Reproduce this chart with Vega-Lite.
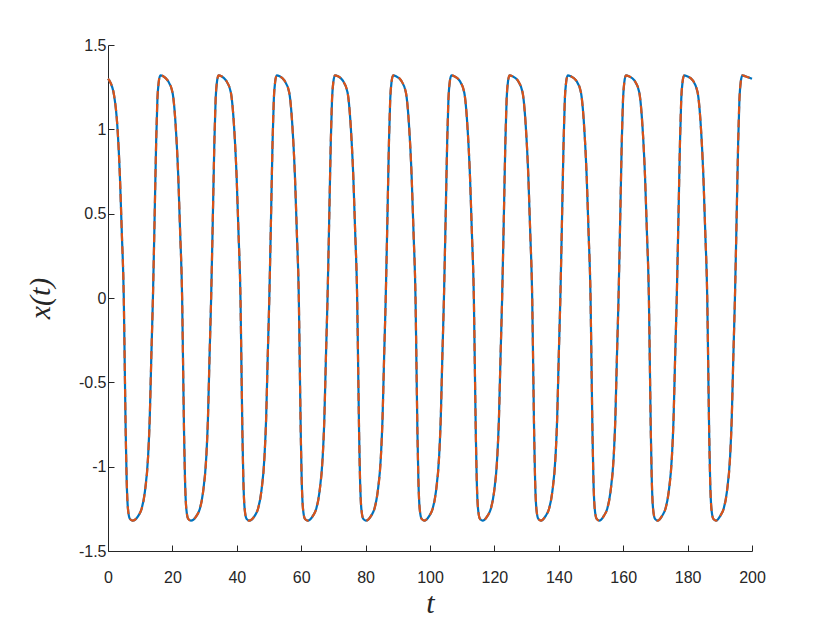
{
  "$schema": "https://vega.github.io/schema/vega-lite/v6.json",
  "width": 644,
  "height": 506,
  "autosize": {"type": "none"},
  "padding": {"left": 108, "top": 45, "right": 78, "bottom": 72},
  "background": "white",
  "config": {"view": {"stroke": null}},
  "data": {"values": [
    {"t":0,"x":1.30},{"t":0.40,"x":1.29},{"t":1.90,"x":1.20},{"t":2.90,"x":1.02},{"t":3.70,"x":0.72},{"t":4.30,"x":0.38},{"t":4.90,"x":0},{"t":5.20,"x":-0.40},{"t":5.50,"x":-0.80},{"t":5.80,"x":-1.08},{"t":6.20,"x":-1.25},{"t":6.80,"x":-1.31},{"t":7.60,"x":-1.32},
    {"t":9.45,"x":-1.29},{"t":10.45,"x":-1.25},{"t":11.45,"x":-1.15},{"t":12.45,"x":-0.94},{"t":12.95,"x":-0.72},{"t":13.45,"x":-0.35},{"t":13.95,"x":0},{"t":14.45,"x":0.45},{"t":14.95,"x":0.92},{"t":15.35,"x":1.18},{"t":15.75,"x":1.28},{"t":16.25,"x":1.32},{"t":17.15,"x":1.315},
    {"t":18.52,"x":1.29},{"t":20.02,"x":1.22},{"t":21.02,"x":1.02},{"t":21.82,"x":0.72},{"t":22.42,"x":0.38},{"t":23.02,"x":0},{"t":23.32,"x":-0.40},{"t":23.62,"x":-0.80},{"t":23.92,"x":-1.08},{"t":24.32,"x":-1.25},{"t":24.92,"x":-1.31},{"t":25.72,"x":-1.32},
    {"t":27.53,"x":-1.29},{"t":28.53,"x":-1.25},{"t":29.53,"x":-1.15},{"t":30.53,"x":-0.94},{"t":31.03,"x":-0.72},{"t":31.53,"x":-0.35},{"t":32.03,"x":0},{"t":32.53,"x":0.45},{"t":33.03,"x":0.92},{"t":33.43,"x":1.18},{"t":33.83,"x":1.28},{"t":34.33,"x":1.32},{"t":35.23,"x":1.315},
    {"t":36.64,"x":1.29},{"t":38.14,"x":1.22},{"t":39.14,"x":1.02},{"t":39.94,"x":0.72},{"t":40.54,"x":0.38},{"t":41.14,"x":0},{"t":41.44,"x":-0.40},{"t":41.74,"x":-0.80},{"t":42.04,"x":-1.08},{"t":42.44,"x":-1.25},{"t":43.04,"x":-1.31},{"t":43.84,"x":-1.32},
    {"t":45.60,"x":-1.29},{"t":46.60,"x":-1.25},{"t":47.60,"x":-1.15},{"t":48.60,"x":-0.94},{"t":49.10,"x":-0.72},{"t":49.60,"x":-0.35},{"t":50.10,"x":0},{"t":50.60,"x":0.45},{"t":51.10,"x":0.92},{"t":51.50,"x":1.18},{"t":51.90,"x":1.28},{"t":52.40,"x":1.32},{"t":53.30,"x":1.315},
    {"t":54.76,"x":1.29},{"t":56.26,"x":1.22},{"t":57.26,"x":1.02},{"t":58.06,"x":0.72},{"t":58.66,"x":0.38},{"t":59.26,"x":0},{"t":59.56,"x":-0.40},{"t":59.86,"x":-0.80},{"t":60.16,"x":-1.08},{"t":60.56,"x":-1.25},{"t":61.16,"x":-1.31},{"t":61.96,"x":-1.32},
    {"t":63.68,"x":-1.29},{"t":64.68,"x":-1.25},{"t":65.68,"x":-1.15},{"t":66.68,"x":-0.94},{"t":67.18,"x":-0.72},{"t":67.68,"x":-0.35},{"t":68.18,"x":0},{"t":68.68,"x":0.45},{"t":69.18,"x":0.92},{"t":69.58,"x":1.18},{"t":69.98,"x":1.28},{"t":70.48,"x":1.32},{"t":71.38,"x":1.315},
    {"t":72.88,"x":1.29},{"t":74.38,"x":1.22},{"t":75.38,"x":1.02},{"t":76.18,"x":0.72},{"t":76.78,"x":0.38},{"t":77.38,"x":0},{"t":77.68,"x":-0.40},{"t":77.98,"x":-0.80},{"t":78.28,"x":-1.08},{"t":78.68,"x":-1.25},{"t":79.28,"x":-1.31},{"t":80.08,"x":-1.32},
    {"t":81.75,"x":-1.29},{"t":82.75,"x":-1.25},{"t":83.75,"x":-1.15},{"t":84.75,"x":-0.94},{"t":85.25,"x":-0.72},{"t":85.75,"x":-0.35},{"t":86.25,"x":0},{"t":86.75,"x":0.45},{"t":87.25,"x":0.92},{"t":87.65,"x":1.18},{"t":88.05,"x":1.28},{"t":88.55,"x":1.32},{"t":89.45,"x":1.315},
    {"t":91.00,"x":1.29},{"t":92.50,"x":1.22},{"t":93.50,"x":1.02},{"t":94.30,"x":0.72},{"t":94.90,"x":0.38},{"t":95.50,"x":0},{"t":95.80,"x":-0.40},{"t":96.10,"x":-0.80},{"t":96.40,"x":-1.08},{"t":96.80,"x":-1.25},{"t":97.40,"x":-1.31},{"t":98.20,"x":-1.32},
    {"t":99.83,"x":-1.29},{"t":100.83,"x":-1.25},{"t":101.83,"x":-1.15},{"t":102.83,"x":-0.94},{"t":103.33,"x":-0.72},{"t":103.83,"x":-0.35},{"t":104.33,"x":0},{"t":104.83,"x":0.45},{"t":105.33,"x":0.92},{"t":105.73,"x":1.18},{"t":106.13,"x":1.28},{"t":106.63,"x":1.32},{"t":107.53,"x":1.315},
    {"t":109.12,"x":1.29},{"t":110.62,"x":1.22},{"t":111.62,"x":1.02},{"t":112.42,"x":0.72},{"t":113.02,"x":0.38},{"t":113.62,"x":0},{"t":113.92,"x":-0.40},{"t":114.22,"x":-0.80},{"t":114.52,"x":-1.08},{"t":114.92,"x":-1.25},{"t":115.52,"x":-1.31},{"t":116.32,"x":-1.32},
    {"t":117.90,"x":-1.29},{"t":118.90,"x":-1.25},{"t":119.90,"x":-1.15},{"t":120.90,"x":-0.94},{"t":121.40,"x":-0.72},{"t":121.90,"x":-0.35},{"t":122.40,"x":0},{"t":122.90,"x":0.45},{"t":123.40,"x":0.92},{"t":123.80,"x":1.18},{"t":124.20,"x":1.28},{"t":124.70,"x":1.32},{"t":125.60,"x":1.315},
    {"t":127.24,"x":1.29},{"t":128.74,"x":1.22},{"t":129.74,"x":1.02},{"t":130.54,"x":0.72},{"t":131.14,"x":0.38},{"t":131.74,"x":0},{"t":132.04,"x":-0.40},{"t":132.34,"x":-0.80},{"t":132.64,"x":-1.08},{"t":133.04,"x":-1.25},{"t":133.64,"x":-1.31},{"t":134.44,"x":-1.32},
    {"t":135.98,"x":-1.29},{"t":136.98,"x":-1.25},{"t":137.98,"x":-1.15},{"t":138.98,"x":-0.94},{"t":139.48,"x":-0.72},{"t":139.98,"x":-0.35},{"t":140.48,"x":0},{"t":140.98,"x":0.45},{"t":141.48,"x":0.92},{"t":141.88,"x":1.18},{"t":142.28,"x":1.28},{"t":142.78,"x":1.32},{"t":143.68,"x":1.315},
    {"t":145.36,"x":1.29},{"t":146.86,"x":1.22},{"t":147.86,"x":1.02},{"t":148.66,"x":0.72},{"t":149.26,"x":0.38},{"t":149.86,"x":0},{"t":150.16,"x":-0.40},{"t":150.46,"x":-0.80},{"t":150.76,"x":-1.08},{"t":151.16,"x":-1.25},{"t":151.76,"x":-1.31},{"t":152.56,"x":-1.32},
    {"t":154.05,"x":-1.29},{"t":155.05,"x":-1.25},{"t":156.05,"x":-1.15},{"t":157.05,"x":-0.94},{"t":157.55,"x":-0.72},{"t":158.05,"x":-0.35},{"t":158.55,"x":0},{"t":159.05,"x":0.45},{"t":159.55,"x":0.92},{"t":159.95,"x":1.18},{"t":160.35,"x":1.28},{"t":160.85,"x":1.32},{"t":161.75,"x":1.315},
    {"t":163.48,"x":1.29},{"t":164.98,"x":1.22},{"t":165.98,"x":1.02},{"t":166.78,"x":0.72},{"t":167.38,"x":0.38},{"t":167.98,"x":0},{"t":168.28,"x":-0.40},{"t":168.58,"x":-0.80},{"t":168.88,"x":-1.08},{"t":169.28,"x":-1.25},{"t":169.88,"x":-1.31},{"t":170.68,"x":-1.32},
    {"t":172.13,"x":-1.29},{"t":173.13,"x":-1.25},{"t":174.13,"x":-1.15},{"t":175.13,"x":-0.94},{"t":175.63,"x":-0.72},{"t":176.13,"x":-0.35},{"t":176.63,"x":0},{"t":177.13,"x":0.45},{"t":177.63,"x":0.92},{"t":178.03,"x":1.18},{"t":178.43,"x":1.28},{"t":178.93,"x":1.32},{"t":179.83,"x":1.315},
    {"t":181.60,"x":1.29},{"t":183.10,"x":1.22},{"t":184.10,"x":1.02},{"t":184.90,"x":0.72},{"t":185.50,"x":0.38},{"t":186.10,"x":0},{"t":186.40,"x":-0.40},{"t":186.70,"x":-0.80},{"t":187.00,"x":-1.08},{"t":187.40,"x":-1.25},{"t":188.00,"x":-1.31},{"t":188.80,"x":-1.32},
    {"t":190.20,"x":-1.29},{"t":191.20,"x":-1.25},{"t":192.20,"x":-1.15},{"t":193.20,"x":-0.94},{"t":193.70,"x":-0.72},{"t":194.20,"x":-0.35},{"t":194.70,"x":0},{"t":195.20,"x":0.45},{"t":195.70,"x":0.92},{"t":196.10,"x":1.18},{"t":196.50,"x":1.28},{"t":197.00,"x":1.32},{"t":197.90,"x":1.315},{"t":200,"x":1.30}
  ]},
  "encoding": {
    "x": {"field": "t", "type": "quantitative",
      "scale": {"domain": [0, 200], "nice": false, "zero": false},
      "axis": {"values": [0,20,40,60,80,100,120,140,160,180,200], "grid": false,
        "labelExpr": "'' + datum.value",
        "title": "t", "titleFont": "Liberation Serif", "titleFontStyle": "italic", "titleFontWeight": "normal", "titleFontSize": 30, "titleColor": "#262626",
        "titleX": 322, "titleY": 52, "titleBaseline": "middle",
        "labelFont": "Liberation Sans", "labelFontSize": 16, "labelColor": "#262626", "labelPadding": 24,
        "domainColor": "#262626", "tickColor": "#262626", "tickSize": -6, "labelFlush": false, "labelOverlap": false}},
    "y": {"field": "x", "type": "quantitative",
      "scale": {"domain": [-1.5, 1.5], "nice": false, "zero": false},
      "axis": {"values": [-1.5,-1,-0.5,0,0.5,1,1.5], "grid": false,
        "labelExpr": "'' + datum.value",
        "title": "x(t)", "titleFont": "Liberation Serif", "titleFontStyle": "italic", "titleFontWeight": "normal", "titleFontSize": 30, "titleColor": "#262626",
        "titleX": -68, "titleY": 253, "titleAngle": -90, "titleBaseline": "middle", "titleAlign": "center",
        "labelFont": "Liberation Sans", "labelFontSize": 16, "labelColor": "#262626", "labelPadding": 8,
        "domainColor": "#262626", "tickColor": "#262626", "tickSize": -6, "labelFlush": false, "labelOverlap": false}}
  },
  "layer": [
    {"mark": {"type": "line", "color": "#0072BD", "strokeWidth": 2.2, "interpolate": "monotone"}},
    {"mark": {"type": "line", "color": "#D95319", "strokeWidth": 2.2, "strokeDash": [8, 5], "interpolate": "monotone"}}
  ]
}
